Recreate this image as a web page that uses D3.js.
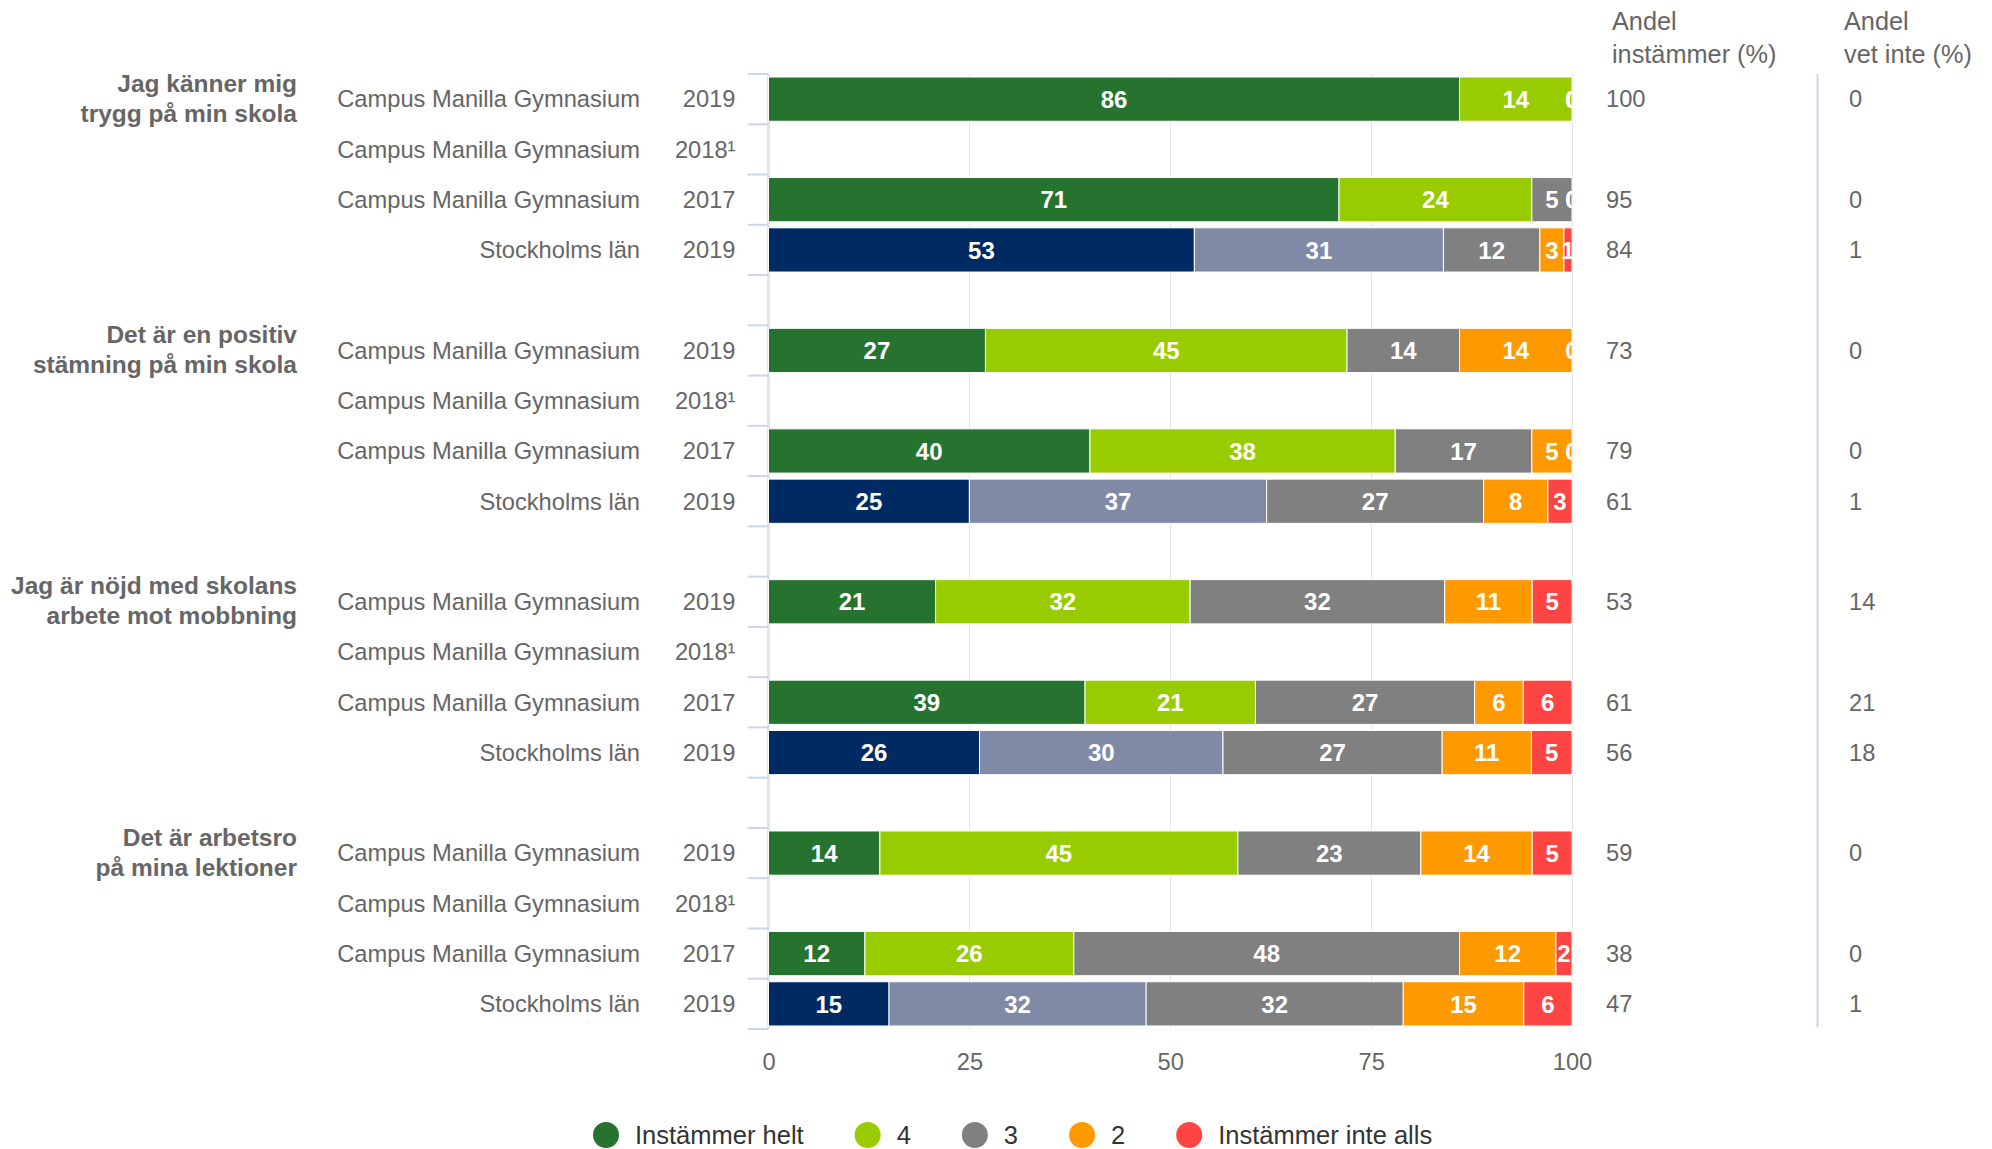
<!DOCTYPE html>
<meta charset="utf-8">
<script src="https://d3js.org/d3.v7.min.js"></script>
<style>
  body { margin: 0; background: #fff; }
  text { font-family: "Liberation Sans", Arial, Helvetica, sans-serif; }
</style>
<div id="chart"></div>
<script>
// questions (two lines each), rows within a question
const questions = [
  ["Jag känner mig", "trygg på min skola"],
  ["Det är en positiv", "stämning på min skola"],
  ["Jag är nöjd med skolans", "arbete mot mobbning"],
  ["Det är arbetsro", "på mina lektioner"]
];
const units = ["Campus Manilla Gymnasium", "Campus Manilla Gymnasium", "Campus Manilla Gymnasium", "Stockholms län"];
const years = ["2019", "2018¹", "2017", "2019"];
const seriesNames = ["Instämmer helt", "4", "3", "2", "Instämmer inte alls"];

// one value per row (question x unit), null = no data (2018)
const helt     = [86, null, 71, 53,  27, null, 40, 25,  21, null, 39, 26,  14, null, 12, 15];
const four     = [14, null, 24, 31,  45, null, 38, 37,  32, null, 21, 30,  45, null, 26, 32];
const three    = [ 0, null,  5, 12,  14, null, 17, 27,  32, null, 27, 27,  23, null, 48, 32];
const two      = [ 0, null,  0,  3,  14, null,  5,  8,  11, null,  6, 11,  14, null, 12, 15];
const inteAlls = [ 0, null,  0,  1,   0, null,  0,  3,   5, null,  6,  5,   5, null,  2,  6];

const andelInstammer = [100, null, 95, 84,  73, null, 79, 61,  53, null, 61, 56,  59, null, 38, 47];
const andelVetInte   = [  0, null,  0,  1,   0, null,  0,  1,  14, null, 21, 18,   0, null,  0,  1];

const xTicks = [0, 25, 50, 75, 100];

const colors = ["#267330", "#99cc00", "#808080", "#ff9900", "#ff4444"];
const regionColors = ["#002b62", "#8089a6", "#808080", "#ff9900", "#ff4444"];

const W = 1992, H = 1149;
const plot = {left: 768.5, right: 1572, top: 74, bottom: 1029};

const svg = d3.select("#chart").append("svg")
  .attr("width", W).attr("height", H);

// 4 rows per question plus an empty spacer row between questions
const rows = [];
questions.forEach((q, qi) => {
  units.forEach((u, ui) => {
    const i = qi * 4 + ui;
    rows.push({slot: qi * 5 + ui, q: qi, u: ui, unit: u, year: years[ui],
      values: [helt[i], four[i], three[i], two[i], inteAlls[i]],
      instammer: andelInstammer[i], vetInte: andelVetInte[i]});
  });
});
const nSlots = questions.length * 5 - 1;

const y = d3.scaleBand()
  .domain(d3.range(nSlots))
  .range([plot.top, plot.bottom])
  .paddingInner(0.12).paddingOuter(0.06);
const yc = s => y(s) + y.bandwidth() / 2;
const step = (plot.bottom - plot.top) / nSlots;

const x = d3.scaleLinear().domain([0, 100]).range([plot.left, plot.right]);

// grid lines
svg.append("g")
  .selectAll("line")
  .data(xTicks)
  .join("line")
    .attr("x1", d => Math.round(x(d)) + 0.5).attr("x2", d => Math.round(x(d)) + 0.5)
    .attr("y1", plot.top).attr("y2", plot.bottom)
    .attr("stroke", "#e6e6e6").attr("stroke-width", 1);

// x axis labels
const xAxis = svg.append("g")
  .attr("transform", `translate(0,${plot.bottom})`)
  .call(d3.axisBottom(x).tickValues(xTicks).tickSize(0).tickPadding(24));
xAxis.select(".domain").remove();
xAxis.selectAll("text")
  .attr("font-size", 23.7).attr("fill", "#666")
  .style("font-family", '"Liberation Sans", Arial, sans-serif');

// category axis line + ticks between categories
svg.append("line")
  .attr("x1", plot.left - 0.5).attr("x2", plot.left - 0.5)
  .attr("y1", plot.top).attr("y2", plot.bottom)
  .attr("stroke", "#d9dde7").attr("stroke-width", 1.5);
svg.append("g")
  .selectAll("line")
  .data(d3.range(nSlots + 1))
  .join("line")
    .attr("x1", plot.left - 21).attr("x2", plot.left)
    .attr("y1", d => plot.top + d * step).attr("y2", d => plot.top + d * step)
    .attr("stroke", "#ccd6eb").attr("stroke-width", 2);

// stacked (percent) bars
const dataRows = rows.filter(r => r.values[0] != null);
const stack = d3.stack()
  .keys(d3.range(5))
  .value((r, k) => r.values[k])
  .offset(d3.stackOffsetExpand);
const layers = stack(dataRows);

svg.append("clipPath").attr("id", "plotclip")
  .append("rect")
    .attr("x", plot.left).attr("y", plot.top)
    .attr("width", plot.right - plot.left).attr("height", plot.bottom - plot.top);

const barG = svg.append("g");
layers.forEach((layer, k) => {
  barG.append("g")
    .selectAll("rect")
    .data(layer)
    .join("rect")
      .attr("x", d => x(d[0] * 100))
      .attr("y", d => y(d.data.slot))
      .attr("width", d => Math.max(0, x(d[1] * 100) - x(d[0] * 100)))
      .attr("height", y.bandwidth())
      .attr("fill", d => (d.data.u === 3 ? regionColors : colors)[k])
      .attr("stroke", "#fff").attr("stroke-width", 1);
});

// data labels
const labelG = svg.append("g").attr("clip-path", "url(#plotclip)");
layers.forEach((layer, k) => {
  labelG.append("g")
    .selectAll("text")
    .data(layer)
    .join("text")
      .attr("x", d => x((d[0] + d[1]) / 2 * 100))
      .attr("y", d => yc(d.data.slot))
      .attr("dy", "0.36em")
      .attr("text-anchor", "middle")
      .attr("font-size", 24).attr("font-weight", "bold").attr("fill", "#fff")
      .text(d => d.data.values[k]);
});

// row labels
const rowG = svg.append("g").attr("font-size", 23.7).attr("fill", "#666");
rowG.selectAll("text.unit")
  .data(rows)
  .join("text").attr("class", "unit")
    .attr("x", 640).attr("y", d => yc(d.slot)).attr("dy", "0.35em")
    .attr("text-anchor", "end")
    .text(d => d.unit);
rowG.selectAll("text.year")
  .data(rows)
  .join("text").attr("class", "year")
    .attr("x", 735.5).attr("y", d => yc(d.slot)).attr("dy", "0.35em")
    .attr("text-anchor", "end")
    .text(d => d.year);

// question titles
const qG = svg.append("g").attr("font-size", 24.5).attr("font-weight", "bold").attr("fill", "#666");
questions.forEach((lines, qi) => {
  const cy = yc(qi * 5);
  lines.forEach((line, li) => {
    qG.append("text")
      .attr("x", 297).attr("y", cy - 16 + li * 30).attr("dy", "0.35em")
      .attr("text-anchor", "end")
      .text(line);
  });
});

// table columns
const headers = [["Andel", "instämmer (%)"], ["Andel", "vet inte (%)"]];
const headerX = [1612, 1844];
const valueX = [1606, 1849];
const tG = svg.append("g").attr("fill", "#666");
headers.forEach((lines, c) => {
  lines.forEach((line, li) => {
    tG.append("text")
      .attr("x", headerX[c]).attr("y", 21 + li * 33).attr("dy", "0.35em")
      .attr("font-size", 25.3)
      .text(line);
  });
});
tG.selectAll("text.v1")
  .data(dataRows)
  .join("text").attr("class", "v1")
    .attr("x", valueX[0]).attr("y", d => yc(d.slot)).attr("dy", "0.35em")
    .attr("font-size", 23.7)
    .text(d => d.instammer);
tG.selectAll("text.v2")
  .data(dataRows)
  .join("text").attr("class", "v2")
    .attr("x", valueX[1]).attr("y", d => yc(d.slot)).attr("dy", "0.35em")
    .attr("font-size", 23.7)
    .text(d => d.vetInte);
svg.append("line")
  .attr("x1", 1817.5).attr("x2", 1817.5)
  .attr("y1", plot.top).attr("y2", plot.bottom - 2)
  .attr("stroke", "#ccd6eb").attr("stroke-width", 2);

// legend
const legend = svg.append("g").attr("transform", "translate(606,1135)");
let lx = 0;
seriesNames.forEach((name, k) => {
  const item = legend.append("g").attr("transform", `translate(${lx},0)`);
  item.append("circle").attr("r", 13).attr("fill", colors[k]);
  const t = item.append("text")
    .attr("x", 29).attr("y", 0).attr("dy", "0.36em")
    .attr("font-size", 25.5).attr("fill", "#333")
    .text(name);
  lx += 29 + t.node().getComputedTextLength() + 64;
});
</script>
